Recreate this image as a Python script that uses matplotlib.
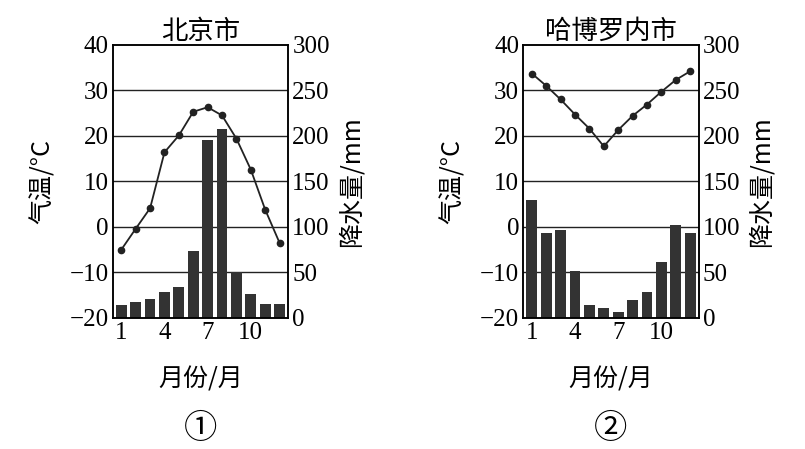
import matplotlib
matplotlib.use("Agg")
import matplotlib.pyplot as plt

months = list(range(1, 13))
titles = ["北京市", "哈博罗内市"]
marks = ["①", "②"]
temp_bj = [-5, -0.4, 4.1, 16.4, 20.1, 25.3, 26.3, 24.5, 19.4, 12.6, 3.8, -3.5]
prec_bj = [14, 17.5, 21, 28, 34, 73, 195, 208, 50, 26, 15, 15]
temp_hb = [33.7, 31, 28, 24.7, 21.6, 17.7, 21.3, 24.4, 26.9, 29.7, 32.3, 34.2]
prec_hb = [130, 93, 97, 51, 14, 11, 7, 20, 28, 61, 102, 93]
xticks = [1, 4, 7, 10]

plt.rcParams['font.family'] = ['Liberation Serif', 'Noto Sans CJK SC', 'DejaVu Sans']
cjk = ['Noto Sans CJK SC', 'DejaVu Sans']
fig = plt.figure(figsize=(8.05, 4.49), dpi=100)
lefts = [0.140, 0.650]
for i, (temp, prec) in enumerate([(temp_bj, prec_bj), (temp_hb, prec_hb)]):
    ax = fig.add_axes([lefts[i], 0.292, 0.218, 0.608])
    ax2 = ax.twinx()
    ax.set_zorder(ax2.get_zorder() + 1)
    ax.patch.set_visible(False)
    ax2.bar(months, prec, width=0.75, color='#333333', zorder=2)
    ax2.set_ylim(0, 300)
    ax2.set_yticks(range(0, 301, 50))
    ax.plot(months, temp, color='#222', lw=1.3, marker='o', ms=4.5)
    ax.set_ylim(-20, 40)
    ax.set_xlim(0.4, 12.6)
    ax.set_yticks(range(-20, 41, 10))
    ax.set_yticklabels(['−20', '−10', '0', '10', '20', '30', '40'])
    for y in range(-10, 40, 10):
        ax2.axhline((y + 20) * 5, color='#222', lw=1, zorder=1)
    ax.set_xticks(xticks)
    for a in (ax, ax2):
        a.tick_params(length=0, labelsize=18, pad=3)
        for s in a.spines.values():
            s.set_linewidth(1.1)
    ax.set_ylabel('气温/°C', fontsize=18, labelpad=10, family=cjk)
    ax2.set_ylabel('降水量/mm', fontsize=18, labelpad=6, family=cjk)
    ax.set_xlabel('月份/月', fontsize=18, labelpad=16, family=cjk)
    ax.set_title(titles[i], fontsize=19, pad=2, family=cjk)
    fig.text(lefts[i] + 0.109, 0.025, marks[i], ha='center', fontsize=24, family=cjk)

fig.savefig('out.png', dpi=100)
